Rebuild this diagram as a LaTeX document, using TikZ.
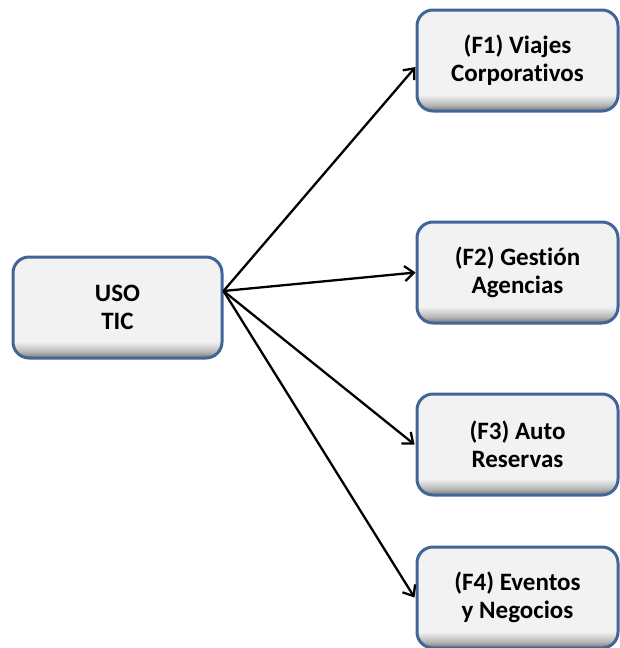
\documentclass[tikz,border=0pt]{standalone}
\usepackage{fontspec}
\setmainfont[Ligatures=NoCommon]{Carlito}
\usetikzlibrary{arrows.meta}
\definecolor{boxfill}{HTML}{F2F2F2}
\definecolor{boxedge}{HTML}{3F6696}
\definecolor{shadeA}{HTML}{747474}
\definecolor{shadeB}{HTML}{B5B5B5}
% the path covers 25bp..75bp of the shading, so 1bp here is about 2pt of box height
\pgfdeclareverticalshading{boxshade}{100bp}{color(0bp)=(shadeA); color(25bp)=(shadeA); color(28bp)=(shadeB); color(33bp)=(boxfill); color(100bp)=(boxfill)}
\tikzset{
  card/.style={shading=boxshade, draw=boxedge, line width=3pt, rounded corners=16pt,
    minimum width=#1, minimum height=101pt, inner sep=0pt, align=center,
    font=\fontsize{25pt}{28pt}\selectfont\bfseries},
  card/.default=201pt,
  link/.style={line width=2.3pt, -{Straight Barb[length=9pt,width=15pt,line width=2.3pt]}}
}
\begin{document}
\begin{tikzpicture}[x=1pt,y=-1pt]
\useasboundingbox (0,0) rectangle (620,648);
\node[card=209pt] (uso) at (117.5,307.5) {USO\\TIC};
\node[card] (f1) at (517.5,60.5) {(F1) Viajes\\Corporativos};
\node[card] (f2) at (517.5,272.5) {(F2) Gestión\\Agencias};
\node[card] (f3) at (517.5,444.5) {(F3) Auto\\Reservas};
\node[card] (f4) at (517.5,597.5) {(F4) Eventos\\y Negocios};
\coordinate (src) at ([yshift=16.5pt]uso.east);
\coordinate (t1) at ([yshift=-6.5pt]f1.west);
\draw[link] (src) -- (t1);
\draw[link] (src) -- (f2.west);
\draw[link] (src) -- ([xshift=-1pt]f3.west);
\draw[link] (src) -- ([xshift=-1pt]f4.west);
\end{tikzpicture}
\end{document}
